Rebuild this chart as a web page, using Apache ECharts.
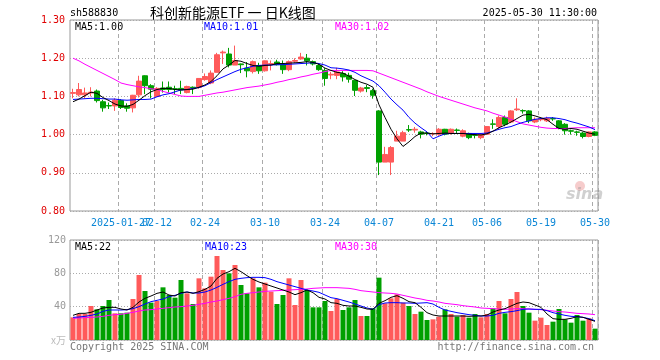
<!DOCTYPE html>
<html><head><meta charset="utf-8">
<script src="https://cdn.jsdelivr.net/npm/echarts/dist/echarts.min.js"></script>
<style>html,body{margin:0;padding:0;background:#fff}#c{width:660px;height:360px}</style>
</head><body><div id="c"></div>
<script>
const dates = ["2025-01-15","2025-01-16","2025-01-17","2025-01-20","2025-01-21","2025-01-22","2025-01-23","2025-01-24","2025-01-27",
"2025-02-05","2025-02-06","2025-02-07","2025-02-10","2025-02-11","2025-02-12","2025-02-13","2025-02-14","2025-02-17","2025-02-18","2025-02-19","2025-02-20","2025-02-21","2025-02-24","2025-02-25","2025-02-26","2025-02-27","2025-02-28",
"2025-03-03","2025-03-04","2025-03-05","2025-03-06","2025-03-07","2025-03-10","2025-03-11","2025-03-12","2025-03-13","2025-03-14","2025-03-17","2025-03-18","2025-03-19","2025-03-20","2025-03-21","2025-03-24","2025-03-25","2025-03-26","2025-03-27","2025-03-28","2025-03-31",
"2025-04-01","2025-04-02","2025-04-03","2025-04-07","2025-04-08","2025-04-09","2025-04-10","2025-04-11","2025-04-14","2025-04-15","2025-04-16","2025-04-17","2025-04-18","2025-04-21","2025-04-22","2025-04-23","2025-04-24","2025-04-25","2025-04-28","2025-04-29","2025-04-30",
"2025-05-06","2025-05-07","2025-05-08","2025-05-09","2025-05-12","2025-05-13","2025-05-14","2025-05-15","2025-05-16","2025-05-19","2025-05-20","2025-05-21","2025-05-22","2025-05-23","2025-05-26","2025-05-27","2025-05-28","2025-05-29","2025-05-30"];
const labelDates = ["2025-01-27","2025-02-12","2025-02-24","2025-03-10","2025-03-24","2025-04-07","2025-04-21","2025-05-06","2025-05-19","2025-05-30"];

const open = [1.108,1.104,1.104,1.109,1.114,1.086,1.076,1.075,1.089,1.075,
1.070,1.104,1.154,1.128,1.100,1.122,1.124,1.120,1.121,1.110,
1.124,1.124,1.144,1.135,1.163,1.214,1.211,1.182,1.185,1.174,
1.165,1.181,1.167,1.184,1.190,1.184,1.170,1.192,1.198,1.200,
1.191,1.181,1.168,1.156,1.155,1.160,1.155,1.142,1.114,1.123,
1.115,1.062,0.928,0.928,0.983,0.983,1.013,1.012,1.007,1.004,
1.002,1.001,1.014,1.003,1.012,0.996,1.003,0.999,0.992,1.001,
1.028,1.021,1.045,1.033,1.065,1.063,1.062,1.033,1.039,1.036,
1.042,1.036,1.027,1.010,1.007,1.004,0.995,1.007];
const close = [1.110,1.118,1.109,1.111,1.089,1.070,1.075,1.090,1.071,1.069,
1.103,1.140,1.128,1.119,1.121,1.118,1.118,1.119,1.117,1.126,
1.122,1.147,1.152,1.161,1.209,1.216,1.182,1.194,1.183,1.167,
1.191,1.167,1.193,1.186,1.183,1.170,1.191,1.194,1.203,1.193,
1.185,1.170,1.147,1.158,1.164,1.151,1.145,1.116,1.122,1.121,
1.103,0.928,0.948,0.966,0.996,1.005,1.012,1.014,1.001,1.003,
1.003,1.014,1.001,1.014,1.011,1.010,0.992,0.998,1.001,1.021,
1.027,1.045,1.027,1.062,1.067,1.062,1.036,1.040,1.041,1.042,
1.041,1.016,1.010,1.009,1.006,0.995,1.007,0.998];
const low = [1.095,1.100,1.095,1.100,1.084,1.060,1.067,1.062,1.067,1.060,
1.058,1.097,1.106,1.095,1.100,1.110,1.110,1.106,1.106,1.108,
1.106,1.120,1.141,1.132,1.163,1.185,1.176,1.182,1.161,1.150,
1.160,1.159,1.165,1.168,1.181,1.159,1.166,1.188,1.196,1.181,
1.181,1.167,1.128,1.145,1.145,1.139,1.136,1.101,1.110,1.111,
1.094,0.894,0.928,0.894,0.983,0.983,1.007,1.005,0.990,0.998,
0.996,0.997,0.998,1.000,1.004,0.993,0.988,0.990,0.988,1.000,
1.015,1.015,1.022,1.030,1.062,1.055,1.030,1.030,1.035,1.033,
1.036,1.014,1.000,1.000,0.997,0.990,0.993,0.996];
const high = [1.120,1.135,1.123,1.124,1.118,1.091,1.084,1.095,1.093,1.082,
1.104,1.154,1.155,1.132,1.124,1.139,1.139,1.128,1.141,1.128,
1.126,1.148,1.160,1.168,1.214,1.220,1.227,1.233,1.186,1.190,
1.194,1.188,1.194,1.194,1.196,1.194,1.194,1.200,1.214,1.211,
1.194,1.185,1.174,1.164,1.175,1.166,1.162,1.142,1.125,1.130,
1.120,1.064,0.968,0.970,1.010,1.010,1.025,1.020,1.010,1.008,
1.006,1.017,1.015,1.016,1.016,1.014,1.005,1.003,1.003,1.022,
1.040,1.050,1.050,1.064,1.095,1.066,1.064,1.045,1.045,1.047,
1.046,1.038,1.030,1.013,1.010,1.007,1.008,1.009];
const volume = [27.2,31.2,31.2,40.8,36.8,40.8,48,32,32,32.8,
49.2,78,58.8,44.8,46.8,63.2,54,50.8,72,56,
43.2,74,62,76,100.8,84,80,90,66,56,
74,63.2,68.8,58,43.2,54,74,42,72,60,
39.2,39.2,46.8,34.8,49.2,36,39.2,48,28.8,28.8,
38,74.8,44,50,54.8,44.8,40.8,31.2,34,24,
24.8,28,36.8,31.2,28,30,26.8,31.2,27.2,31.2,
38,46.8,32,49.2,57.6,40.8,32.8,23.2,26.8,18,
22,37.2,24.8,20.8,30,23.2,26,13.6];
const ma5 = [1.086,1.093,1.102,1.111,1.108,1.097,1.089,1.080,1.075,1.074,
1.079,1.090,1.102,1.112,1.118,1.121,1.121,1.118,1.117,1.118,
1.119,1.124,1.130,1.139,1.154,1.172,1.182,1.194,1.192,1.186,
1.181,1.179,1.181,1.182,1.186,1.186,1.187,1.188,1.189,1.191,
1.189,1.184,1.174,1.168,1.163,1.161,1.153,1.144,1.137,1.132,
1.124,1.078,1.045,1.014,0.989,0.969,0.981,0.995,1.004,1.004,
1.002,1.003,1.004,1.003,1.003,1.003,1.001,1.000,0.999,1.002,
1.009,1.018,1.025,1.033,1.042,1.051,1.053,1.049,1.044,1.039,
1.027,1.016,1.014,1.016,1.014,1.009,1.004,1.001];
const ma10 = [1.092,1.093,1.094,1.095,1.095,1.094,1.093,1.093,1.091,1.090,
1.091,1.092,1.092,1.093,1.099,1.104,1.107,1.112,1.117,1.118,
1.121,1.123,1.128,1.136,1.144,1.151,1.158,1.165,1.171,1.175,
1.179,1.181,1.182,1.182,1.183,1.183,1.184,1.185,1.186,1.187,
1.188,1.186,1.182,1.175,1.174,1.172,1.169,1.163,1.154,1.147,
1.140,1.128,1.111,1.093,1.078,1.064,1.045,1.030,1.018,1.007,
0.989,0.996,1.002,1.003,1.003,1.003,1.003,1.003,1.003,1.004,
1.009,1.014,1.018,1.021,1.027,1.032,1.036,1.040,1.042,1.044,
1.044,1.042,1.039,1.034,1.030,1.025,1.020,1.013];
const ma30 = [1.200,1.193,1.184,1.176,1.168,1.160,1.152,1.144,1.135,1.131,
1.128,1.125,1.123,1.120,1.118,1.113,1.109,1.105,1.101,1.100,
1.100,1.100,1.103,1.106,1.109,1.111,1.114,1.117,1.120,1.123,
1.125,1.127,1.130,1.133,1.137,1.140,1.144,1.147,1.151,1.154,
1.158,1.161,1.165,1.168,1.168,1.168,1.168,1.168,1.168,1.168,
1.167,1.161,1.155,1.149,1.143,1.137,1.131,1.125,1.119,1.112,
1.106,1.100,1.095,1.090,1.085,1.080,1.075,1.070,1.066,1.062,
1.056,1.051,1.046,1.040,1.034,1.028,1.025,1.022,1.019,1.017,
1.016,1.016,1.016,1.017,1.018,1.018,1.018,1.018];
const vma5 = [29.6,32,32,33.2,36,38.4,39.2,39.2,37.2,36,
39.2,45.6,50,52.8,56,57.6,54,52.8,56.8,57.6,
56,58,60.8,64.8,74,79.2,82,86,82,77.2,
72.8,69.6,67.2,64.8,62.4,60,57.6,54.4,56.8,60,
56.8,51.2,49.2,44.8,44,41.6,40.8,40.8,39.2,37.2,
36.8,44,47.2,51.2,53.2,50,46,44.8,39.2,32.8,
30,28.8,28.8,28.8,28.8,28.8,28.4,28.8,28.8,30,
33.6,36,37.6,40.8,44,45.6,44.8,42,39.2,31.2,
25.6,24.8,24.8,26,28,27.2,24.8,22.4];
const vma10 = [27.2,27.6,28.4,29.6,31.2,34.4,36,36,36,36.4,
37.6,40,43.2,46,47.6,49.2,52,53.6,56,57.6,
56.4,56.4,57.6,60,63.2,66.8,70,72.8,74,74.8,
75.2,75.2,74.8,72.8,70,68,66,64,62,60,
58.8,57.2,54,50.8,49.6,47.6,45.6,43.2,40.8,38.4,
36.8,42.4,44.4,44.8,44.8,44.4,44.4,44,44.4,44.8,
43.2,39.2,36,34.4,32.8,31.6,30.4,29.6,28.8,28.8,
29.6,32,33.2,34,35.2,36.8,37.2,36.8,36.8,35.2,
32.8,31.2,29.6,28.4,28,27.2,25.6,23.2];
const vma30 = [26,26.4,26.8,27.2,27.6,28.4,29.6,30.4,30.8,32,
33.2,34.8,36,36.4,37.2,38,38.8,39.6,40,40.8,
41.6,42.8,44,45.6,46.8,48.4,50,52,54.8,56,
56.8,57.6,58.4,58.8,59.2,59.6,60,60.4,60.8,61.2,
62,62.4,62.8,62.8,62.8,62.4,62,60.8,59.2,58.4,
57.6,56.8,56.4,56,55.2,53.6,52,50.4,49.2,47.6,
46.8,45.6,44,43.2,42.4,41.2,40.4,39.6,38.4,38,
37.6,37.2,36.8,37.2,37.6,37.6,37.2,36.8,36.4,35.6,
34.8,34,33.6,32.8,32,31.6,31.2,30.4];
const priceTicks = [0.80, 0.90, 1.00, 1.10, 1.20, 1.30];
const volTicks = [0, 40, 80, 120];

const UP = '#ff5a5a', DOWN = '#00a000';
const MONO = '"DejaVu Sans Mono", "Liberation Mono", monospace';
const labelIdx = labelDates.map(d => dates.indexOf(d));
const isLabel = (i) => labelIdx.indexOf(i) >= 0;
const ohlc = dates.map((d, i) => [open[i], close[i], low[i], high[i]]);
const last = dates.length - 1;

const chart = echarts.init(document.getElementById('c'), null, {renderer: 'canvas'});
function xAxisFor(gi, showLabel, labelTest, showSplit, fmt) {
  return {
    type: 'category', gridIndex: gi, position: 'bottom', data: dates, boundaryGap: true,
    axisLine: {show: false}, axisTick: {show: false},
    axisLabel: {show: showLabel, interval: labelTest, hideOverlap: false, color: '#0a86d6',
      fontFamily: MONO, fontSize: 10, margin: 7, formatter: fmt},
    splitLine: {show: showSplit, interval: (i) => isLabel(i), lineStyle: {color: '#aaa', type: [4, 3], width: 1}}
  };
}
const txt = (x, y, s, color, font, align) => ({type: 'text', x: x, y: y, z: 100,
  style: {text: s, fill: color, font: font, textAlign: align || 'left', align: align || 'left', textVerticalAlign: 'middle', verticalAlign: 'middle'}});
const mono10 = '10px ' + MONO;

chart.setOption({
  animation: false,
  backgroundColor: '#fff',
  grid: [
    {left: 70, top: 20, width: 528, height: 191, show: true, borderColor: '#999', borderWidth: 1, backgroundColor: 'transparent'},
    {left: 70, top: 240, width: 528, height: 100, show: true, borderColor: '#999', borderWidth: 1, backgroundColor: 'transparent'}
  ],
  xAxis: [
    xAxisFor(0, true, (i) => isLabel(i) && i !== labelIdx[0], true, (v) => v.slice(5)),
    xAxisFor(1, false, (i) => isLabel(i), true, (v) => v),
    xAxisFor(0, true, (i) => i === labelIdx[0], false, (v) => v)
  ],
  yAxis: [
    {type: 'value', gridIndex: 0, min: priceTicks[0], max: priceTicks[priceTicks.length - 1], interval: 0.1,
      axisLine: {show: false}, axisTick: {show: false},
      axisLabel: {color: '#e00000', fontFamily: MONO, fontSize: 10, margin: 5, formatter: v => v.toFixed(2)},
      splitLine: {show: true, lineStyle: {color: '#aaa', type: [1, 2], width: 1}}},
    {type: 'value', gridIndex: 1, min: volTicks[0], max: volTicks[volTicks.length - 1], interval: 40,
      axisLine: {show: false}, axisTick: {show: false},
      axisLabel: {color: '#999', fontFamily: MONO, fontSize: 10, margin: 4, formatter: v => (v === 0 ? '' : String(v))},
      splitLine: {show: true, lineStyle: {color: '#aaa', type: [1, 2], width: 1}}}
  ],
  series: [
    {type: 'candlestick', xAxisIndex: 0, yAxisIndex: 0, data: ohlc, barWidth: 5,
      itemStyle: {color: UP, color0: DOWN, borderColor: UP, borderColor0: DOWN, borderWidth: 1}},
    {type: 'line', xAxisIndex: 0, yAxisIndex: 0, data: ma30, symbol: 'none', lineStyle: {color: '#ff00ff', width: 1}},
    {type: 'line', xAxisIndex: 0, yAxisIndex: 0, data: ma10, symbol: 'none', lineStyle: {color: '#0000ff', width: 1}},
    {type: 'line', xAxisIndex: 0, yAxisIndex: 0, data: ma5, symbol: 'none', lineStyle: {color: '#000', width: 1}},
    {type: 'bar', xAxisIndex: 1, yAxisIndex: 1, data: volume, barWidth: 5,
      itemStyle: {color: p => (close[p.dataIndex] >= open[p.dataIndex] ? UP : DOWN)}},
    {type: 'line', xAxisIndex: 1, yAxisIndex: 1, data: vma30, symbol: 'none', lineStyle: {color: '#ff00ff', width: 1}},
    {type: 'line', xAxisIndex: 1, yAxisIndex: 1, data: vma10, symbol: 'none', lineStyle: {color: '#0000ff', width: 1}},
    {type: 'line', xAxisIndex: 1, yAxisIndex: 1, data: vma5, symbol: 'none', lineStyle: {color: '#000', width: 1}}
  ],
  graphic: [
    txt(70, 13, 'sh588830', '#000', mono10),
    txt(150, 13, '科创新能源ETF 一 日K线图', '#000', '14px "Noto Sans CJK SC"'),
    txt(597, 13, dates[last] + ' 11:30:00', '#000', mono10, 'right'),
    txt(75, 27, 'MA5:' + ma5[last].toFixed(2), '#000', mono10),
    txt(204, 27, 'MA10:' + ma10[last].toFixed(2), '#0000ff', mono10),
    txt(335, 27, 'MA30:' + ma30[last].toFixed(2), '#ff00ff', mono10),
    txt(75, 247, 'MA5:' + Math.round(vma5[last]), '#000', mono10),
    txt(205, 247, 'MA10:' + Math.round(vma10[last]), '#0000ff', mono10),
    txt(335, 247, 'MA30:' + Math.floor(vma30[last]), '#ff00ff', mono10),
    txt(66, 340, 'x万', '#bbb', '10px "Noto Sans CJK SC"', 'right'),
    txt(70, 347, 'Copyright 2025 SINA.COM', '#777', mono10),
    txt(594, 347, 'http://finance.sina.com.cn', '#777', mono10, 'right'),
    {type: 'circle', shape: {cx: 580, cy: 186, r: 5}, z: 1, style: {fill: 'rgba(230,110,110,0.35)'}},
    txt(566, 195, 'sina', 'rgba(150,150,150,0.45)', 'italic bold 16px "DejaVu Sans"')
  ]
});
</script></body></html>
